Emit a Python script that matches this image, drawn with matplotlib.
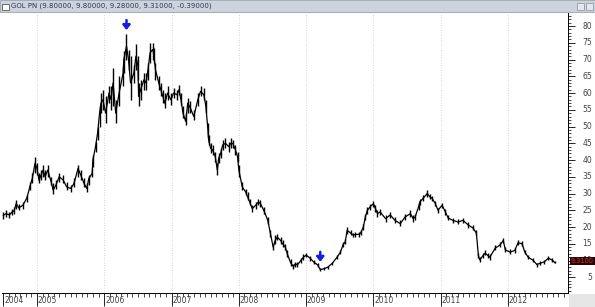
import matplotlib.pyplot as plt
from matplotlib.patches import Rectangle
from matplotlib.ticker import MultipleLocator, FixedLocator

plt.rcParams["font.family"] = "DejaVu Sans"

# price data (fractional year, close, low, high)
dates = [2004.50, 2004.54, 2004.59, 2004.63, 2004.66, 2004.69, 2004.73, 2004.79, 2004.85, 2004.90,
         2004.93, 2004.97, 2005.00, 2005.03, 2005.06, 2005.09, 2005.12, 2005.16, 2005.21, 2005.24,
         2005.28, 2005.33, 2005.39, 2005.44, 2005.50, 2005.55, 2005.61, 2005.65, 2005.70, 2005.74,
         2005.77, 2005.82, 2005.83, 2005.87, 2005.90, 2005.93, 2005.95, 2005.98, 2006.02, 2006.07,
         2006.10, 2006.13, 2006.17, 2006.22, 2006.28, 2006.29, 2006.33, 2006.36, 2006.39, 2006.44,
         2006.47, 2006.50, 2006.51, 2006.54, 2006.59, 2006.62, 2006.65, 2006.68, 2006.72, 2006.74,
         2006.76, 2006.81, 2006.84, 2006.87, 2006.90, 2006.94, 2006.99, 2007.03, 2007.08, 2007.11,
         2007.14, 2007.17, 2007.21, 2007.24, 2007.28, 2007.33, 2007.39, 2007.43, 2007.48, 2007.51,
         2007.54, 2007.55, 2007.58, 2007.61, 2007.65, 2007.68, 2007.70, 2007.73, 2007.76, 2007.80,
         2007.85, 2007.88, 2007.91, 2007.95, 2007.98, 2008.00, 2008.05, 2008.10, 2008.13, 2008.16,
         2008.20, 2008.25, 2008.29, 2008.32, 2008.37, 2008.43, 2008.47, 2008.51, 2008.54, 2008.57,
         2008.62, 2008.65, 2008.69, 2008.72, 2008.77, 2008.81, 2008.84, 2008.87, 2008.92, 2008.96,
         2009.00, 2009.06, 2009.11, 2009.17, 2009.21, 2009.26, 2009.32, 2009.39, 2009.46, 2009.51,
         2009.55, 2009.58, 2009.61, 2009.66, 2009.70, 2009.73, 2009.78, 2009.81, 2009.85, 2009.88,
         2009.91, 2009.95, 2010.00, 2010.03, 2010.06, 2010.10, 2010.18, 2010.25, 2010.32, 2010.40,
         2010.47, 2010.55, 2010.59, 2010.62, 2010.67, 2010.69, 2010.74, 2010.80, 2010.84, 2010.87,
         2010.92, 2010.96, 2011.02, 2011.07, 2011.11, 2011.18, 2011.26, 2011.33, 2011.41, 2011.48,
         2011.53, 2011.56, 2011.58, 2011.63, 2011.66, 2011.70, 2011.73, 2011.81, 2011.88, 2011.93,
         2011.96, 2012.03, 2012.10, 2012.15, 2012.21, 2012.25, 2012.30, 2012.37, 2012.43, 2012.48,
         2012.54, 2012.60, 2012.66, 2012.70]

closes = [23.5, 24, 23.6, 24.5, 24.8, 27, 25.7, 26.5, 28.7, 32.5,
          34.5, 39, 37.5, 34, 35.5, 37, 35, 37, 33.5, 31,
          32.5, 35, 34, 32, 31.5, 33, 37.5, 35.5, 33, 31.5,
          34.5, 36, 40, 44, 48, 54, 57, 58, 54, 60,
          58, 63, 54, 60, 66, 70, 74, 70, 63, 66,
          71, 68, 59, 61, 64, 63, 67, 72, 73, 71,
          67, 63, 61, 59, 57, 60, 58, 60, 59.5, 61,
          58, 54, 51.5, 57, 55.5, 53, 58, 60.5, 59.5, 56,
          49, 46, 43.5, 43, 41, 37, 40.5, 42, 44.5, 45,
          44, 45, 45, 43, 41, 37, 32, 30.5, 29, 27.5,
          25.5, 26.5, 27.5, 27, 25, 22, 18, 14, 16, 17,
          16, 15, 14, 12, 9.3, 8.2, 9, 8.7, 10, 11,
          11.6, 10.7, 9.6, 8.7, 7.3, 7.5, 8, 9.2, 11, 12.5,
          14.8, 15.5, 19, 18.2, 17.6, 17.8, 17.8, 18.2, 20, 23,
          25, 26, 27, 25.5, 24, 24.5, 22.5, 23.6, 22, 21,
          23, 24, 22.5, 23, 26, 27.5, 28.6, 30, 29, 28.6,
          27, 25, 26.5, 24.5, 22.7, 22, 21.5, 22, 20.6, 19.7,
          18.2, 11.5, 10.2, 11.5, 12.2, 11.5, 11, 13.7, 14.6, 16,
          13.2, 12.5, 13, 15.3, 15, 12.5, 11, 10.1, 8.8, 9.2,
          9.6, 10.7, 10.1, 9.31]

lows = [22.5, 23, 22.8, 23.5, 24, 25.5, 25, 25.5, 27.5, 31,
        33, 36, 35.5, 33, 34, 35, 34, 35, 32.5, 30,
        31.5, 33.5, 33, 31, 30.5, 32, 35, 34, 32, 30.5,
        32.5, 35, 38, 42.5, 46, 50, 54, 55, 51, 57,
        55, 56, 51, 56, 62, 66, 70, 67, 58, 63,
        67, 64, 56, 58, 61, 61, 64, 69, 70, 69,
        64, 61, 59, 57, 55.5, 58, 56.5, 58.5, 58, 59.5,
        56.5, 52.5, 50.5, 54, 54, 52, 56, 59, 58, 54,
        47, 44.5, 42, 41.5, 39.5, 35.5, 39, 40.5, 43, 43.5,
        42.5, 43.5, 43.5, 41.5, 39.5, 35, 31, 29.5, 28, 26.5,
        24.5, 25.5, 26.5, 26, 24, 21, 17, 13, 15, 16,
        15, 14, 13, 11, 8.5, 7.5, 8, 8, 9.3, 10.3,
        11, 10, 9, 8.2, 7, 7.1, 7.6, 8.7, 10.4, 12,
        14, 14.8, 18, 17.5, 17, 17, 17, 17.5, 19, 22,
        24, 25, 26, 24.5, 23, 23.5, 21.5, 22.8, 21.2, 20.2,
        22, 23, 21.5, 22, 25, 26.5, 27.8, 29, 28.3, 27.8,
        26.2, 24.2, 25.7, 23.7, 22, 21.2, 20.8, 21.2, 19.8, 19,
        17.5, 10.8, 9.5, 10.8, 11.5, 10.8, 10.3, 13, 13.9, 15.2,
        12.5, 11.8, 12.3, 14.6, 14.3, 11.8, 10.4, 9.5, 8.2, 8.6,
        9, 10.1, 9.5, 9.2]

highs = [24.5, 25, 24.5, 25.5, 26, 28, 27, 27.5, 29.5, 33.5,
         36, 41, 39, 36, 37, 38.5, 37, 38.5, 35, 33,
         34, 36, 35.5, 33.5, 32.5, 34.5, 38.5, 37, 34.5, 33,
         35.5, 37.5, 41.5, 45.5, 50, 56, 60, 61, 59, 62,
         62, 67.5, 58, 65, 68, 72.5, 77.5, 73, 71, 68.5,
         74.5, 71, 63, 64, 66, 66, 69, 75, 75, 73.5,
         69, 65, 63, 61, 60, 62, 60, 61.5, 61, 62.5,
         60, 56, 54, 58.5, 57.5, 55, 60, 62, 61.5, 58,
         51, 47.5, 45, 44.5, 42.5, 39, 42, 43.5, 46, 46.5,
         45.5, 46.5, 46, 44.5, 42.5, 38.5, 33.5, 31.5, 30.5, 28.5,
         26.5, 27.5, 28.5, 28, 26, 23, 19, 15, 17.5, 18,
         17, 16, 15, 13, 10.5, 9, 9.5, 9.5, 10.8, 11.8,
         12.2, 11.4, 10.2, 9.2, 7.8, 8, 8.5, 9.7, 11.6, 13.2,
         15.5, 16.3, 20, 19, 18.3, 18.5, 18.5, 19, 21, 24,
         26, 27, 27.8, 26.5, 25, 25.5, 23.5, 24.4, 23, 22,
         24, 25, 23.5, 24, 27, 28.5, 29.6, 31, 30, 29.4,
         27.8, 25.8, 27.3, 25.3, 23.5, 22.8, 22.3, 22.8, 21.4, 20.5,
         19, 12.3, 11, 12.3, 13, 12.3, 11.8, 14.5, 15.4, 16.8,
         14, 13.3, 13.8, 16.1, 15.8, 13.2, 11.7, 10.7, 9.4, 9.8,
         10.2, 11.3, 10.7, 9.9]

years = [2004, 2005, 2006, 2007, 2008, 2009, 2010, 2011, 2012]
year_starts = [2004.50, 2005.0, 2006.0, 2007.0, 2008.0, 2009.0, 2010.0, 2011.0, 2012.0]
price_ticks = list(range(5, 85, 5))

# blue marker arrows (date, value at the tip)
arrow_dates = [2006.33, 2009.21]
arrow_tips = [78.8, 9.6]

title_text = "GOL PN (9.80000, 9.80000, 9.28000, 9.31000, -0.39000)"
last_label = "9.3100"

fig = plt.figure(figsize=(5.95, 3.07), dpi=100)
fig.patch.set_facecolor("white")

ax = fig.add_axes([0.0034, 0.0456, 0.951, 0.912])

ax.vlines(dates, lows, highs, color="black", lw=1.0)
ax.plot(dates, closes, color="black", lw=0.9)

ax.set_xlim(2004.48, 2012.89)
ax.set_ylim(0.3, 83.9)

# year grid
for d in year_starts[1:]:
    ax.axvline(d, color="#c8c8c8", lw=0.6, ls=(0, (1, 2)), zorder=0)

# price scale on the right, labels drawn by hand so they can be right aligned
ax.yaxis.tick_right()
ax.yaxis.set_major_locator(FixedLocator(price_ticks))
ax.yaxis.set_minor_locator(MultipleLocator(1))
ax.set_yticklabels([])
ax.tick_params(axis="y", which="major", length=5, width=0.6, direction="out")
ax.tick_params(axis="y", which="minor", length=2.5, width=0.5, direction="out")
for v in price_ticks:
    ax.text(1.0425, v, str(v), transform=ax.get_yaxis_transform(),
            fontsize=5.5, color="#444444", ha="right", va="center")

# x axis: year labels to the right of the tick
ax.xaxis.set_major_locator(FixedLocator(year_starts))
ax.xaxis.set_minor_locator(FixedLocator(
    [y + m / 12 for y in range(2004, 2013) for m in range(12) if 2004.55 < y + m / 12 < 2012.85]))
ax.set_xticklabels([])
ax.tick_params(axis="x", which="major", length=9, width=0.6, direction="out")
ax.tick_params(axis="x", which="minor", length=3, width=0.5, direction="out")
for d, y in zip(year_starts, years):
    ax.text(d + 0.012, -0.01, str(y), transform=ax.get_xaxis_transform(),
            fontsize=5.5, color="#444444", ha="left", va="top")

for side in ["top", "left"]:
    ax.spines[side].set_visible(False)
ax.spines["right"].set_linewidth(0.7)
ax.spines["bottom"].set_linewidth(0.7)

# blue arrows
for d, v in zip(arrow_dates, arrow_tips):
    ax.annotate("", xy=(d, v), xytext=(d, v + 3.0),
                arrowprops=dict(arrowstyle="-|>,head_width=0.22,head_length=0.28",
                                color="#1a1ae6", lw=1.8, shrinkA=0, shrinkB=0))

# last value tag on the right axis
ax.text(1.005, closes[-1] + 0.4, last_label, transform=ax.get_yaxis_transform(),
        fontsize=4.8, color="#e03030", ha="left", va="center",
        bbox=dict(boxstyle="square,pad=0.15", fc="#2a0505", ec="none"))

# window title bar
fig.patches.append(Rectangle((0, 1 - 12 / 307), 1, 12 / 307, transform=fig.transFigure,
                             fc="#ccd3dd", ec="#9aa3ae", lw=0.6, zorder=5))
fig.patches.append(Rectangle((2 / 595, 1 - 10 / 307), 7 / 595, 6 / 307, transform=fig.transFigure,
                             fc="white", ec="#555555", lw=0.6, zorder=6))
fig.text(11 / 595, 1 - 6 / 307, title_text, fontsize=5, color="#333355",
         ha="left", va="center", zorder=7)
for bx in [577, 586]:
    fig.patches.append(Rectangle((bx / 595, 1 - 10 / 307), 7 / 595, 7 / 307,
                                 transform=fig.transFigure, fc="#e4e8ee", ec="#8890a0",
                                 lw=0.5, zorder=6))
# gray corner under the price scale
fig.patches.append(Rectangle((569 / 595, 0), 26 / 595, 13 / 307, transform=fig.transFigure,
                             fc="#e6e6e6", ec="none", zorder=0))

plt.savefig("out.png", dpi=100)
